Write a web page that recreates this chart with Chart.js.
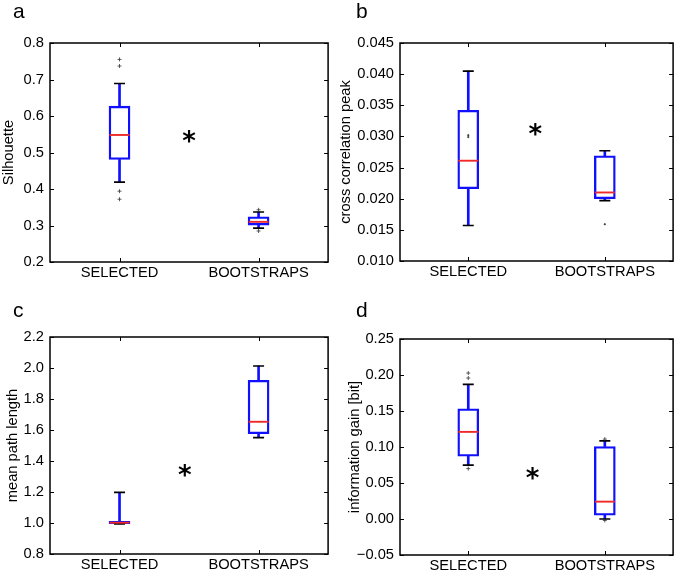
<!DOCTYPE html>
<html>
<head>
<meta charset="utf-8">
<script src="https://cdn.jsdelivr.net/npm/chart.js@4"></script>
<style>
  body { margin: 0; background: #fff; width: 685px; height: 573px; position: relative; overflow: hidden; }
  canvas { position: absolute; }
</style>
</head>
<body>
<canvas id="ca" width="340" height="285" style="left:0;top:0"></canvas>
<canvas id="cb" width="345" height="285" style="left:340px;top:0"></canvas>
<canvas id="cc" width="340" height="288" style="left:0;top:285px"></canvas>
<canvas id="cd" width="345" height="288" style="left:340px;top:285px"></canvas>
<script>
// box stats are [low whisker, q1, median, q3, high whisker]
var categories = ['SELECTED', 'BOOTSTRAPS'];

var silSelected = [0.419, 0.481, 0.548, 0.627, 0.689];
var silSelectedOut = [0.755, 0.737, 0.394, 0.372];
var silBoot = [0.293, 0.301, 0.310, 0.324, 0.337];
var silBootOut = [0.343, 0.285];
var silTicks = ['0.2', '0.3', '0.4', '0.5', '0.6', '0.7', '0.8'];

var xcSelected = [0.0157, 0.0216, 0.0261, 0.0342, 0.0405];
var xcSelectedOut = [0.0302, 0.0299];
var xcBoot = [0.0197, 0.0200, 0.0210, 0.0269, 0.0277];
var xcBootOut = [0.0159];
var xcTicks = ['0.010', '0.015', '0.020', '0.025', '0.030', '0.035', '0.040', '0.045'];

var mplSelected = [0.995, 0.995, 1.002, 1.010, 1.198];
var mplSelectedOut = [];
var mplBoot = [1.551, 1.576, 1.653, 1.921, 2.013];
var mplBootOut = [];
var mplTicks = ['0.8', '1.0', '1.2', '1.4', '1.6', '1.8', '2.0', '2.2'];

var igSelected = [0.0747, 0.0872, 0.121, 0.153, 0.187];
var igSelectedOut = [0.2027, 0.1958, 0.070];
var igBoot = [0.000, 0.0052, 0.0241, 0.1006, 0.1086];
var igBootOut = [0.111, -0.002];
var igTicks = ['\u22120.05', '0.00', '0.05', '0.10', '0.15', '0.20', '0.25'];

// significance star, x in category units, y in data units
var starX = [0.5, 0.49, 0.47, 0.47];
var starY = [0.546, 0.0312, 1.343, 0.0636];

var FONT = "'Liberation Sans', Arial, sans-serif";
var BLUE = '#1010ff';
var RED = '#ee2a2a';

var panelPlugin = {
  id: 'panelDecor',
  afterDatasetsDraw: function (chart) {
    var ctx = chart.ctx, a = chart.chartArea, p = chart.options.plugins.panelDecor;
    var xs = chart.scales.x, ys = chart.scales.y;
    ctx.save();
    ctx.strokeStyle = '#000';
    ctx.lineWidth = 1.5;
    ctx.strokeRect(a.left, a.top, a.right - a.left, a.bottom - a.top);
    ctx.lineWidth = 1;
    ctx.beginPath();
    ys.ticks.forEach(function (t) {
      var y = Math.round(ys.getPixelForValue(t.value)) + 0.5;
      ctx.moveTo(a.left, y); ctx.lineTo(a.left + 4, y);
      ctx.moveTo(a.right, y); ctx.lineTo(a.right - 4, y);
    });
    categories.forEach(function (c, i) {
      var x = Math.round(xs.getPixelForValue(i)) + 0.5;
      ctx.moveTo(x, a.bottom); ctx.lineTo(x, a.bottom - 4);
      ctx.moveTo(x, a.top); ctx.lineTo(x, a.top + 4);
    });
    ctx.stroke();
    // star
    ctx.fillStyle = '#000';
    ctx.font = "bold 26px 'DejaVu Sans'";
    ctx.textAlign = 'center';
    ctx.textBaseline = 'alphabetic';
    ctx.fillText('*', xs.getPixelForValue(p.sx), ys.getPixelForValue(p.sy) + 14);
    // panel letter
    ctx.font = '21px ' + FONT;
    ctx.textAlign = 'left';
    ctx.fillText(p.letter, p.lx, p.ly);
    ctx.restore();
  }
};

function makePanel(id, letter, title, tickLabels, sel, selOut, boot, bootOut, k, lay) {
  var tickValues = tickLabels.map(function (s) { return parseFloat(s.replace('\u2212', '-')); });
  var outliers = selOut.map(function (v) { return { x: categories[0], y: v }; })
    .concat(bootOut.map(function (v) { return { x: categories[1], y: v }; }));
  var canvas = document.getElementById(id);
  return new Chart(canvas, {
    type: 'bar',
    data: {
      labels: categories,
      datasets: [
        { type: 'bar', grouped: false, order: 6, data: [[sel[3], sel[4]], [boot[3], boot[4]]],
          backgroundColor: BLUE, borderWidth: 0, barThickness: 2 },
        { type: 'bar', grouped: false, order: 6, data: [[sel[0], sel[1]], [boot[0], boot[1]]],
          backgroundColor: BLUE, borderWidth: 0, barThickness: 2 },
        { type: 'bar', grouped: false, order: 5, data: [[sel[1], sel[3]], [boot[1], boot[3]]],
          backgroundColor: 'rgba(255,255,255,0)', borderColor: BLUE, borderWidth: 1.7,
          borderSkipped: false, barThickness: 21 },
        { type: 'line', order: 4, showLine: false, data: [sel[4], boot[4]],
          pointStyle: 'line', pointRadius: 5.5, pointBorderColor: '#000', pointBorderWidth: 1.7 },
        { type: 'line', order: 4, showLine: false, data: [sel[0], boot[0]],
          pointStyle: 'line', pointRadius: 5.5, pointBorderColor: '#000', pointBorderWidth: 1.7 },
        { type: 'line', order: 3, showLine: false, data: [sel[2], boot[2]],
          pointStyle: 'line', pointRadius: 10, pointBorderColor: RED, pointBorderWidth: 1.9 },
        { type: 'line', order: 2, showLine: false, data: outliers,
          pointStyle: lay.flier, pointRadius: lay.flier === 'circle' ? 0.7 : 2,
          pointBorderColor: '#333', pointBackgroundColor: '#333', pointBorderWidth: 0.8 }
      ]
    },
    options: {
      responsive: false,
      animation: false,
      events: [],
      layout: { padding: { left: 0, top: lay.T, right: lay.W - lay.R, bottom: lay.H - lay.B - 22 } },
      plugins: {
        legend: { display: false },
        tooltip: { enabled: false },
        panelDecor: { letter: letter, lx: lay.lx, ly: lay.ly, sx: starX[k], sy: starY[k] }
      },
      scales: {
        x: {
          grid: { display: false, drawTicks: false },
          border: { display: false },
          ticks: { color: '#000', padding: 2, font: { family: FONT, size: 14.7 } },
          afterFit: function (s) { s.height = 22; }
        },
        y: {
          min: tickValues[0],
          max: tickValues[tickValues.length - 1],
          grid: { display: false, drawTicks: false },
          border: { display: false },
          afterBuildTicks: function (s) { s.ticks = tickValues.map(function (v) { return { value: v }; }); },
          afterFit: function (s) { s.width = lay.L; },
          ticks: {
            autoSkip: false, color: '#000', padding: 6, font: { family: FONT, size: 14.7 },
            callback: function (v, i) { return tickLabels[i]; }
          },
          title: { display: true, text: title, color: '#000', font: { family: FONT, size: 14.7 },
            padding: { top: lay.tp, bottom: 0 } }
        }
      }
    },
    plugins: [panelPlugin]
  });
}

makePanel('ca', 'a', 'Silhouette', silTicks, silSelected, silSelectedOut, silBoot, silBootOut, 0,
  { L: 50, R: 332, T: 43, B: 262, W: 340, H: 285, tp: 0, lx: 13, ly: 18, flier: 'cross' });
makePanel('cb', 'b', 'cross correlation peak', xcTicks, xcSelected, xcSelectedOut, xcBoot, xcBootOut, 1,
  { L: 60, R: 342, T: 43, B: 261, W: 345, H: 285, tp: -3, lx: 16, ly: 18, flier: 'circle' });
makePanel('cc', 'c', 'mean path length', mplTicks, mplSelected, mplSelectedOut, mplBoot, mplBootOut, 2,
  { L: 50, R: 332, T: 52, B: 269, W: 340, H: 288, tp: 4, lx: 13, ly: 32, flier: 'cross' });
makePanel('cd', 'd', 'information gain [bit]', igTicks, igSelected, igSelectedOut, igBoot, igBootOut, 3,
  { L: 60, R: 342, T: 54, B: 270, W: 345, H: 288, tp: 6, lx: 16, ly: 32, flier: 'cross' });
</script>
</body>
</html>
